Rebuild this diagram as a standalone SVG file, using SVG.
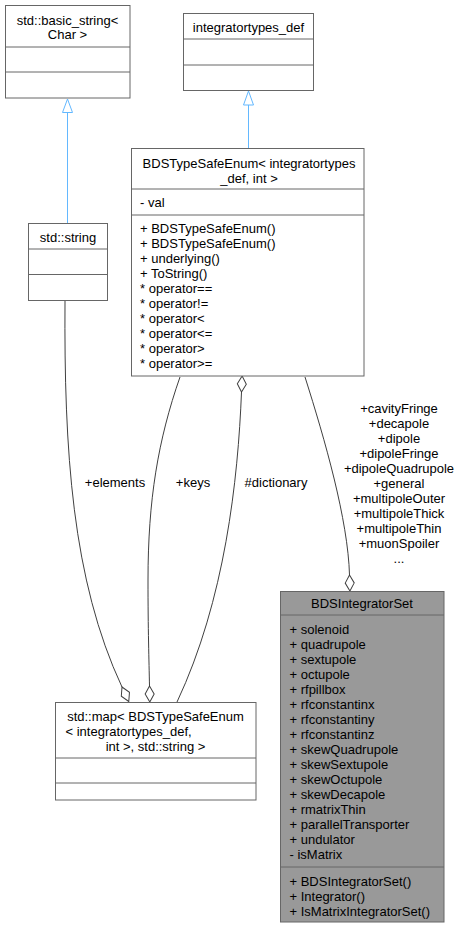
<svg xmlns="http://www.w3.org/2000/svg" width="459" height="928" viewBox="0 0 459 928">
<style>
text{font-family:"Liberation Sans",Arial,sans-serif;font-size:13px;fill:#000}
.c{text-anchor:middle}
.box{fill:#fff;stroke:#666;stroke-width:1}
.boxg{fill:#999;stroke:#666;stroke-width:1}
.div{stroke:#666;stroke-width:1}
.inh{fill:none;stroke:#63b8ff;stroke-width:1}
.tri{fill:#fff;stroke:#63b8ff;stroke-width:1}
.use{fill:none;stroke:#404040;stroke-width:1;marker-end:url(#dia)}
</style>
<defs>
<marker id="dia" markerUnits="userSpaceOnUse" markerWidth="18" markerHeight="12" viewBox="-1 -6 18 12" refX="0" refY="0" orient="auto" overflow="visible">
<path d="M0,0 L8,-4.5 L16,0 L8,4.5 Z" fill="#fff" stroke="#404040" stroke-width="1"/>
</marker>
</defs>

<g id="edges">
<path class="inh" d="M67.5,112.5 V223"/>
<polygon class="tri" points="67.5,99 62.5,112.5 72.5,112.5"/>
<path class="inh" d="M248.5,105 V148.5"/>
<polygon class="tri" points="248.5,91 243.5,105 253.5,105"/>
<path class="use" d="M305,377 C325,440 348,520 349.5,575"/>
<path class="use" d="M65,301 C64,450 72,580 122,687"/>
<path class="use" d="M180,377 C158,440 148,500 148,580 C148,630 149,660 149.5,686"/>
<path class="use" d="M177,702 C225,600 238,480 241.5,392"/>
<text class="c" x="115" y="487">+elements</text>
<text class="c" x="193" y="487">+keys</text>
<text class="c" x="276" y="487">#dictionary</text>
<text class="c" x="399" y="413">+cavityFringe</text>
<text class="c" x="399" y="428">+decapole</text>
<text class="c" x="399" y="443">+dipole</text>
<text class="c" x="399" y="458">+dipoleFringe</text>
<text class="c" x="399" y="473">+dipoleQuadrupole</text>
<text class="c" x="399" y="488">+general</text>
<text class="c" x="399" y="503">+multipoleOuter</text>
<text class="c" x="399" y="518">+multipoleThick</text>
<text class="c" x="399" y="533">+multipoleThin</text>
<text class="c" x="399" y="548">+muonSpoiler</text>
<text class="c" x="399" y="563">...</text>
</g>

<g id="basic_string">
<rect class="box" x="5.5" y="5.5" width="124.5" height="92.5"/>
<line class="div" x1="5.5" y1="47" x2="130" y2="47"/>
<line class="div" x1="5.5" y1="72" x2="130" y2="72"/>
<text class="c" x="67.5" y="24.5">std::basic_string&lt;</text>
<text class="c" x="67.5" y="39">Char &gt;</text>
</g>

<g id="integratortypes_def">
<rect class="box" x="183.5" y="13.5" width="130" height="77"/>
<line class="div" x1="183.5" y1="39" x2="313.5" y2="39"/>
<line class="div" x1="183.5" y1="65" x2="313.5" y2="65"/>
<text class="c" x="248.5" y="31.5">integratortypes_def</text>
</g>

<g id="std_string">
<rect class="box" x="28.5" y="223.5" width="79" height="77"/>
<line class="div" x1="28.5" y1="249" x2="107.5" y2="249"/>
<line class="div" x1="28.5" y1="274.5" x2="107.5" y2="274.5"/>
<text class="c" x="68" y="241.5">std::string</text>
</g>

<g id="BDSTypeSafeEnum">
<rect class="box" x="131.5" y="148.5" width="232.5" height="227.5"/>
<line class="div" x1="131.5" y1="189" x2="364" y2="189"/>
<line class="div" x1="131.5" y1="215" x2="364" y2="215"/>
<text class="c" x="249" y="168">BDSTypeSafeEnum&lt; integratortypes</text>
<text class="c" x="249" y="183">_def, int &gt;</text>
<text x="140" y="207">- val</text>
<text x="140" y="233">+ BDSTypeSafeEnum()</text>
<text x="140" y="248">+ BDSTypeSafeEnum()</text>
<text x="140" y="263">+ underlying()</text>
<text x="140" y="278">+ ToString()</text>
<text x="140" y="293">* operator==</text>
<text x="140" y="308">* operator!=</text>
<text x="140" y="323">* operator&lt;</text>
<text x="140" y="338">* operator&lt;=</text>
<text x="140" y="353">* operator&gt;</text>
<text x="140" y="368">* operator&gt;=</text>
</g>

<g id="std_map">
<rect class="box" x="55.5" y="702.5" width="200.5" height="97.5"/>
<line class="div" x1="55.5" y1="758" x2="256" y2="758"/>
<line class="div" x1="55.5" y1="783" x2="256" y2="783"/>
<text class="c" x="155.5" y="721">std::map&lt; BDSTypeSafeEnum</text>
<text x="65.5" y="736">&lt; integratortypes_def,</text>
<text class="c" x="155.5" y="751">int &gt;, std::string &gt;</text>
</g>

<g id="BDSIntegratorSet">
<rect class="boxg" x="280.5" y="591.5" width="163.5" height="330.5"/>
<line class="div" x1="280.5" y1="615" x2="444" y2="615"/>
<line class="div" x1="280.5" y1="867" x2="444" y2="867"/>
<text class="c" x="362" y="608">BDSIntegratorSet</text>
<text x="289.5" y="634">+ solenoid</text>
<text x="289.5" y="649">+ quadrupole</text>
<text x="289.5" y="664">+ sextupole</text>
<text x="289.5" y="679">+ octupole</text>
<text x="289.5" y="694">+ rfpillbox</text>
<text x="289.5" y="709">+ rfconstantinx</text>
<text x="289.5" y="724">+ rfconstantiny</text>
<text x="289.5" y="739">+ rfconstantinz</text>
<text x="289.5" y="754">+ skewQuadrupole</text>
<text x="289.5" y="769">+ skewSextupole</text>
<text x="289.5" y="784">+ skewOctupole</text>
<text x="289.5" y="799">+ skewDecapole</text>
<text x="289.5" y="814">+ rmatrixThin</text>
<text x="289.5" y="829">+ parallelTransporter</text>
<text x="289.5" y="844">+ undulator</text>
<text x="289.5" y="859">- isMatrix</text>
<text x="289.5" y="886">+ BDSIntegratorSet()</text>
<text x="289.5" y="901">+ Integrator()</text>
<text x="289.5" y="916">+ IsMatrixIntegratorSet()</text>
</g>
</svg>
